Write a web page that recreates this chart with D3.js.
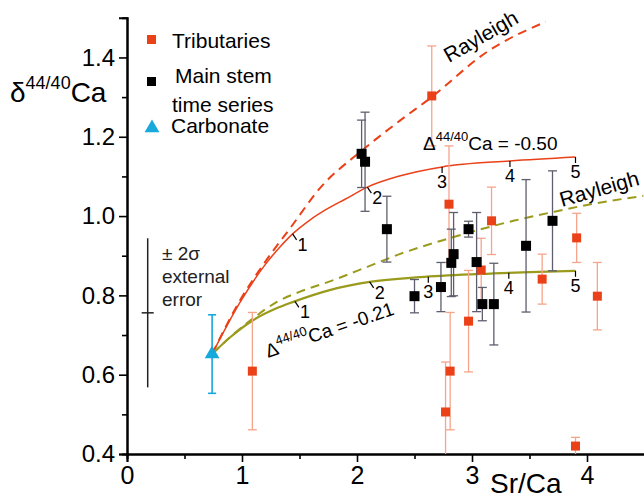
<!DOCTYPE html>
<html>
<head>
<meta charset="utf-8">
<script src="https://cdn.jsdelivr.net/npm/d3@7"></script>
<style>
  body { margin: 0; background: #fff; }
  svg { display: block; }
  svg text { font-family: "Liberation Sans", Arial, sans-serif; }
</style>
</head>
<body>
<div id="chart"></div>
<script>
// tributaries (red squares)
var tribX = [1.09, 2.65, 2.77, 2.81, 2.80, 2.97, 3.08, 3.17, 3.61, 3.90, 3.91, 4.09];
var tribY = [0.609, 1.303, 0.506, 0.609, 1.030, 0.735, 0.864, 0.988, 0.841, 0.420, 0.945, 0.798];
var tribErr = [0.148, 0.126, 0.126, 0.148, 0.147, 0.128, 0.080, 0.085, 0.063, 0.022, 0.062, 0.085];

// main stem time series (black squares)
var mainX = [2.04, 2.07, 2.26, 2.50, 2.73, 2.82, 2.84, 2.97, 3.04, 3.09, 3.19, 3.47, 3.70];
var mainY = [1.157, 1.137, 0.967, 0.798, 0.821, 0.882, 0.904, 0.967, 0.884, 0.778, 0.778, 0.925, 0.988];
var mainErr = [0.085, 0.125, 0.083, 0.042, 0.062, 0.085, 0.105, 0.020, 0.125, 0.042, 0.103, 0.167, 0.126];

// carbonate (cyan triangle)
var carbX = [0.74];
var carbY = [0.652];
var carbErr = [0.099];

// +-2 sigma external error bar
var extX = [0.18];
var extY = [0.756];
var extErr = [0.188];

// model curves
var redRayleigh = [[0.74, 0.652], [0.98, 0.786], [1.20, 0.884], [1.42, 0.970], [1.68, 1.071], [2.05, 1.167],
                   [2.37, 1.240], [2.64, 1.298], [3.13, 1.414], [3.64, 1.490]];
var redModel = [[0.74, 0.652], [0.98, 0.781], [1.20, 0.877], [1.33, 0.922], [1.44, 0.955], [1.59, 0.990],
                [1.74, 1.018], [1.90, 1.043], [2.09, 1.073], [2.37, 1.101], [2.74, 1.124], [3.33, 1.139], [3.90, 1.149]];
var oliveRayleigh = [[0.74, 0.652], [0.91, 0.698], [1.10, 0.743], [1.30, 0.783], [1.50, 0.809], [1.77, 0.836],
                     [2.09, 0.872], [2.37, 0.904], [2.78, 0.942], [3.36, 0.988], [3.70, 1.010], [4.00, 1.028], [4.49, 1.051]];
var oliveModel = [[0.74, 0.652], [0.90, 0.695], [1.10, 0.738], [1.29, 0.766], [1.44, 0.783], [1.77, 0.814],
                  [2.11, 0.834], [2.55, 0.846], [3.07, 0.854], [3.90, 0.862]];

// step marks along the model curves
var stepLabels = ["1", "2", "3", "4", "5"];
var redSteps = [[1.44, 0.955], [2.09, 1.073], [2.74, 1.124], [3.33, 1.139], [3.90, 1.149]];
var oliveSteps = [[1.46, 0.785], [2.11, 0.834], [2.62, 0.847], [3.32, 0.857], [3.90, 0.862]];

var xTicks = [0, 1, 2, 3, 4];
var yTicks = [0.4, 0.6, 0.8, 1.0, 1.2, 1.4];

var W = 644, H = 501;
var RED = "#ea4119", PALE = "#f6a48a", OLIVE = "#9a9a1c", CYAN = "#17a8dc", GREY = "#5e5e6e";

var svg = d3.select("#chart").append("svg")
    .attr("width", W).attr("height", H);

var x = d3.scaleLinear().domain([0, 4.5]).range([127, 644.5]);
var y = d3.scaleLinear().domain([0.4, 1.5]).range([454, 17.8]);

svg.append("clipPath").attr("id", "plot")
    .append("rect").attr("x", 127).attr("y", 17).attr("width", W - 127).attr("height", 437);

// axes
var xAxis = svg.append("g").attr("transform", "translate(0,454)")
    .call(d3.axisBottom(x).tickValues(xTicks).tickFormat(d3.format("d")).tickSize(8).tickPadding(4));
svg.append("g").attr("transform", "translate(0,454)")
    .call(d3.axisBottom(x).tickValues([0.5, 1.5, 2.5, 3.5, 4.5]).tickFormat("").tickSize(5));
var yAxis = svg.append("g").attr("transform", "translate(127,0)")
    .call(d3.axisLeft(y).tickValues(yTicks).tickFormat(d3.format(".1f")).tickSize(8).tickPadding(4));
svg.append("g").attr("transform", "translate(127,0)")
    .call(d3.axisLeft(y).tickValues([0.5, 0.7, 0.9, 1.1, 1.3]).tickFormat("").tickSize(5));
svg.selectAll(".domain").attr("stroke", "#000").attr("stroke-width", 2);
svg.selectAll(".tick line").attr("stroke", "#000").attr("stroke-width", 1.6);
xAxis.selectAll("text").attr("font-size", 25).attr("fill", "#000")
    .attr("font-family", "Liberation Sans, Arial, sans-serif");
yAxis.selectAll("text").attr("font-size", 24).attr("fill", "#000")
    .attr("font-family", "Liberation Sans, Arial, sans-serif");

// axis titles
var yl = svg.append("text").attr("x", 10).attr("y", 102).attr("font-size", 28);
yl.append("tspan").text("δ");
yl.append("tspan").attr("font-size", 18).attr("dy", -13).text("44/40");
yl.append("tspan").attr("dy", 13).text("Ca");
svg.append("text").attr("x", 490).attr("y", 493).attr("font-size", 28).text("Sr/Ca");

var plot = svg.append("g").attr("clip-path", "url(#plot)");

// curves
var line = d3.line().x(function (d) { return x(d[0]); }).y(function (d) { return y(d[1]); })
    .curve(d3.curveMonotoneX);
plot.append("path").attr("d", line(redRayleigh)).attr("fill", "none")
    .attr("stroke", RED).attr("stroke-width", 2).attr("stroke-dasharray", "9,6");
plot.append("path").attr("d", line(redModel)).attr("fill", "none")
    .attr("stroke", RED).attr("stroke-width", 1.5);
plot.append("path").attr("d", line(oliveRayleigh)).attr("fill", "none")
    .attr("stroke", OLIVE).attr("stroke-width", 2).attr("stroke-dasharray", "9,6");
plot.append("path").attr("d", line(oliveModel)).attr("fill", "none")
    .attr("stroke", OLIVE).attr("stroke-width", 2.2);

function drawSteps(pts) {
    pts.forEach(function (p, i) {
        var px = x(p[0]), py = y(p[1]);
        var slant = i < 2 ? 4 : 0;
        plot.append("line").attr("x1", px).attr("y1", py).attr("x2", px + slant).attr("y2", py + 6)
            .attr("stroke", "#000").attr("stroke-width", 1.2);
        plot.append("text").attr("x", px + (i < 2 ? 10 : 0)).attr("y", py + (i < 2 ? 17 : 21))
            .attr("text-anchor", "middle").attr("font-size", 18).text(stepLabels[i]);
    });
}
drawSteps(redSteps);
drawSteps(oliveSteps);

// error bars
function errorBars(xs, ys, es, color, cap, width) {
    var g = plot.append("g").attr("stroke", color).attr("stroke-width", width);
    xs.forEach(function (v, i) {
        var px = x(v), top = y(ys[i] + es[i]), bot = y(ys[i] - es[i]);
        g.append("line").attr("x1", px).attr("x2", px).attr("y1", top).attr("y2", bot);
        g.append("line").attr("x1", px - cap).attr("x2", px + cap).attr("y1", top).attr("y2", top);
        g.append("line").attr("x1", px - cap).attr("x2", px + cap).attr("y1", bot).attr("y2", bot);
    });
}
errorBars(tribX, tribY, tribErr, PALE, 4.5, 1.3);
errorBars(mainX, mainY, mainErr, GREY, 4.5, 1.3);
errorBars(carbX, carbY, carbErr, CYAN, 4, 1.6);

// external error
var ex = x(extX[0]);
svg.append("line").attr("x1", ex).attr("x2", ex).attr("y1", y(extY[0] + extErr[0])).attr("y2", y(extY[0] - extErr[0]))
    .attr("stroke", "#222").attr("stroke-width", 1.5);
svg.append("line").attr("x1", ex - 6).attr("x2", ex + 6).attr("y1", y(extY[0])).attr("y2", y(extY[0]))
    .attr("stroke", "#222").attr("stroke-width", 1.5);
var et = svg.append("text").attr("font-size", 19).attr("fill", "#222");
et.append("tspan").attr("x", 162).attr("y", 260).text("± 2σ");
et.append("tspan").attr("x", 162).attr("y", 283).text("external");
et.append("tspan").attr("x", 162).attr("y", 306).text("error");

// markers
plot.selectAll(".trib").data(tribX).enter().append("rect")
    .attr("x", function (d) { return x(d) - 4.5; })
    .attr("y", function (d, i) { return y(tribY[i]) - 4.5; })
    .attr("width", 9).attr("height", 9).attr("fill", RED);
plot.selectAll(".main").data(mainX).enter().append("rect")
    .attr("x", function (d) { return x(d) - 5; })
    .attr("y", function (d, i) { return y(mainY[i]) - 5; })
    .attr("width", 10).attr("height", 10).attr("fill", "#000");
var tri = d3.symbol().type(d3.symbolTriangle).size(95);
plot.selectAll(".carb").data(carbX).enter().append("path")
    .attr("d", tri)
    .attr("transform", function (d, i) { return "translate(" + x(d) + "," + y(carbY[i]) + ")"; })
    .attr("fill", CYAN);

// curve annotations
svg.append("text").attr("transform", "translate(449,63) rotate(-30)")
    .attr("font-size", 21).text("Rayleigh");
svg.append("text").attr("transform", "translate(562,207) rotate(-16)")
    .attr("font-size", 21).text("Rayleigh");
var d1 = svg.append("text").attr("x", 423).attr("y", 150).attr("font-size", 19);
d1.append("tspan").text("Δ");
d1.append("tspan").attr("font-size", 13).attr("dy", -9).text("44/40");
d1.append("tspan").attr("dy", 9).text("Ca = -0.50");
var d2 = svg.append("text").attr("transform", "translate(268,358) rotate(-19)").attr("font-size", 19);
d2.append("tspan").text("Δ");
d2.append("tspan").attr("font-size", 13).attr("dy", -9).text("44/40");
d2.append("tspan").attr("dy", 9).text("Ca = -0.21");

// legend
svg.append("rect").attr("x", 147).attr("y", 35).attr("width", 9).attr("height", 9).attr("fill", RED);
svg.append("text").attr("x", 172).attr("y", 48).attr("font-size", 21).text("Tributaries");
svg.append("rect").attr("x", 147).attr("y", 77).attr("width", 9).attr("height", 9).attr("fill", "#000");
svg.append("text").attr("x", 175).attr("y", 83).attr("font-size", 21).text("Main stem");
svg.append("text").attr("x", 172).attr("y", 112).attr("font-size", 21).text("time series");
svg.append("path").attr("d", tri).attr("transform", "translate(152,128)").attr("fill", CYAN);
svg.append("text").attr("x", 171).attr("y", 133).attr("font-size", 21).text("Carbonate");
</script>
</body>
</html>
